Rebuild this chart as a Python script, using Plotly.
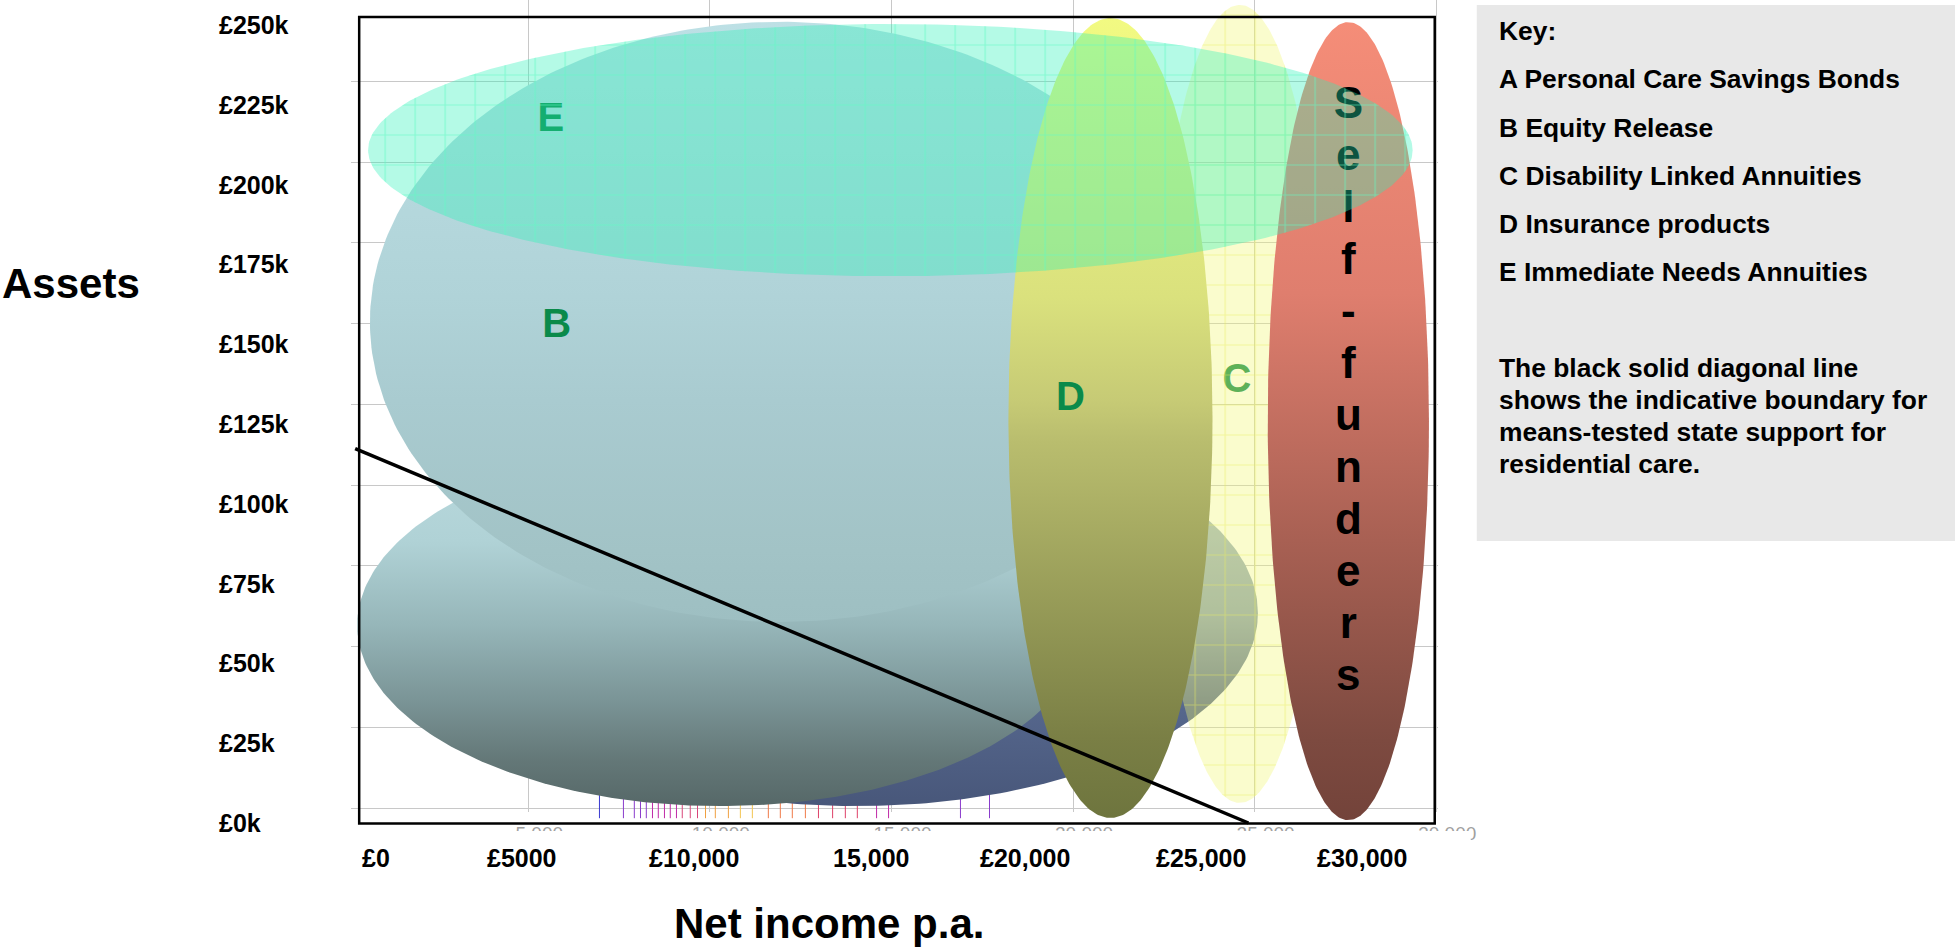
import numpy as np
import plotly.graph_objects as go

W, H = 1955, 947          # reference page geometry used for positioning
PAGE_W = 1995             # rendered figure width
FONT = "Liberation Sans, Arial, Helvetica, sans-serif"
NARROW = "Liberation Sans Narrow, Arial Narrow, Liberation Sans, sans-serif"

# ---------------- values ----------------
# asset axis (in £k) and income axis labels
asset_ticks = [0, 25, 50, 75, 100, 125, 150, 175, 200, 225, 250]
asset_tick_text = ["£0k", "£25k", "£50k", "£75k", "£100k", "£125k",
                   "£150k", "£175k", "£200k", "£225k", "£250k"]
income_tick_text = ["£0", "£5000", "£10,000", "15,000", "£20,000", "£25,000", "£30,000"]
grid_income_ticks = [5000, 10000, 15000, 20000, 25000, 30000]

# product regions drawn as ellipses: centre and half-extent (income in £, assets in £k)
region_names = ["A lower band", "A", "B", "C", "D", "Self-funders", "E"]
region_income = [14040, 10290, 11940, 24590, 21030, 27580, 14970]
region_assets = [65.8, 62.0, 157.0, 131.3, 126.9, 125.9, 210.8]
region_half_income = [11050, 10000, 11300, 2340, 2810, 2220, 14380]
region_half_assets = [60.5, 56.7, 94.0, 125.0, 125.3, 125.0, 39.5]

# region letters
label_letters = ["E", "B", "D", "C"]
label_income = [5620, 5780, 19930, 24510]
label_assets = [219.9, 155.4, 132.5, 138.2]

# means-tested state support boundary
boundary_income = [234, 24830]
boundary_assets = [117.3, 0.0]

# contour traces of the underlying income/assets surface (income in £)
contour_income = [6960, 7620, 7920, 8090, 8250, 8420, 8580, 8750, 8910, 9080,
                  9240, 9460, 9660, 9880, 10150, 10510, 10840, 11170, 11610, 11940,
                  12270, 12630, 12990, 13380, 13730, 14060, 14590, 14920, 16900, 17700]
contour_level = [0, 1, 1, 1, 1, 2, 2, 2, 2, 2,
                 3, 3, 3, 4, 4, 4, 5, 5, 6, 6,
                 6, 6, 7, 7, 7, 7, 2, 2, 1, 1]
contour_assets_range = [1.5, 12.0]

key_lines = ["Key:", "A Personal Care Savings Bonds", "B Equity Release",
             "C Disability Linked Annuities", "D Insurance products",
             "E Immediate Needs Annuities"]
note_lines = ["The black solid diagonal line", "shows the indicative boundary for",
              "means-tested state support for", "residential care."]

# ---------------- geometry helpers (pixel layout on a 1955 x 947 page) ----------------
INC_PER_PX = 5000 / 181.5
INC_ORIGIN_PX = 346.5
K_PER_PX = 1 / 3.192
K_ORIGIN_PY = 823.0


def inc_at(px):
    return (px - INC_ORIGIN_PX) * INC_PER_PX


def k_at(py):
    return (K_ORIGIN_PY - py) * K_PER_PX


def fx(px):
    return px / W


def fy(py):
    return 1 - py / H


theta = np.linspace(0, 2 * np.pi, 361)


def ellipse(i):
    return (region_income[i] + region_half_income[i] * np.cos(theta),
            region_assets[i] + region_half_assets[i] * np.sin(theta))


# fill styles for each region
gradient_styles = {
    "A lower band": [[0, "#48577a"], [0.25, "#55668c"], [0.5, "#8da2b4"], [1, "#b8ccd3"]],
    "A": [[0, "#566868"], [0.13, "#647878"], [0.29, "#7a9496"], [0.5, "#96b6b9"],
          [0.73, "#b0d2d6"], [1, "#badade"]],
    "B": [[0, "#9ebfc2"], [0.12, "#a2c3c6"], [0.37, "#a9cbd0"], [0.54, "#b0d3d8"], [1, "#bde0e5"]],
    "D": [[0, "#6e753e"], [0.1, "#7a7f45"], [0.47, "#b9bd6e"], [0.52, "#c6ca75"],
          [0.65, "#dae17d"], [1, "#f2fa82"]],
    "Self-funders": [[0, "#73433a"], [0.1, "#7d4a40"], [0.35, "#a86053"], [0.66, "#df7e6e"],
                     [1, "#f58d78"]],
}
flat_styles = {
    "C": ("rgba(241,247,116,0.36)", "rgb(232,236,95)", 0.45),
    "E": ("rgba(41,241,184,0.35)", "rgb(95,250,195)", 0.55),
}
contour_colors = ["#3a3ad0", "#8a3ccc", "#c02aa8", "#d9457a", "#f0a040", "#f3c450",
                  "#ef7a48", "#de4068"]

fig = go.Figure()

# grid subplot needs a trace to exist
fig.add_trace(go.Scatter(x=[None], y=[None], xaxis="x", yaxis="y",
                         showlegend=False, hoverinfo="skip"))

DATA = dict(xaxis="x2", yaxis="y2", showlegend=False, hoverinfo="skip")

# contour lines, grouped by level colour
for lvl, col in enumerate(contour_colors):
    xs, ys = [], []
    for xv, lv in zip(contour_income, contour_level):
        if lv == lvl:
            xs += [xv, xv, None]
            ys += [contour_assets_range[0], contour_assets_range[1], None]
    if xs:
        fig.add_trace(go.Scatter(x=xs, y=ys, mode="lines",
                                 line=dict(color=col, width=1.0), **DATA))


def add_gradient_region(name):
    i = region_names.index(name)
    ex, ey = ellipse(i)
    fig.add_trace(go.Scatter(x=ex, y=ey, mode="lines", fill="toself",
                             line=dict(width=0, color="rgba(0,0,0,0)"),
                             fillgradient=dict(type="vertical", colorscale=gradient_styles[name]),
                             **DATA))


def add_flat_region(name):
    i = region_names.index(name)
    ex, ey = ellipse(i)
    fill, grid_col, grid_op = flat_styles[name]
    fig.add_trace(go.Scatter(x=ex, y=ey, mode="lines", fill="toself", fillcolor=fill,
                             line=dict(width=0, color="rgba(0,0,0,0)"), **DATA))
    fig.add_trace(go.Scatter(x=ex, y=ey, mode="lines", fill="toself",
                             fillcolor="rgba(0,0,0,0)",
                             fillpattern=dict(shape="+", size=30, solidity=0.08,
                                              fgcolor=grid_col, fgopacity=grid_op,
                                              bgcolor="rgba(0,0,0,0)"),
                             line=dict(width=0, color="rgba(0,0,0,0)"), **DATA))


def add_letter(letter):
    j = label_letters.index(letter)
    fig.add_trace(go.Scatter(x=[label_income[j]], y=[label_assets[j]], mode="text",
                             text=[letter], textposition="middle center",
                             textfont=dict(family=FONT, size=40, color="#0a8a4a",
                                           weight="bold"), **DATA))


add_gradient_region("A lower band")
add_gradient_region("A")
add_gradient_region("B")
add_letter("B")
add_letter("C")
add_flat_region("C")
add_gradient_region("D")
add_letter("D")
add_gradient_region("Self-funders")

# vertical "Self-funders" lettering down the red region
sf = region_names.index("Self-funders")
letters = list("Self-funders")
letter_py = 107 + 52 * np.arange(len(letters))
fig.add_trace(go.Scatter(x=[region_income[sf]] * len(letters), y=k_at(letter_py),
                         mode="text", text=letters, textposition="middle center",
                         textfont=dict(family=NARROW, size=44, color="black", weight="bold"),
                         **DATA))

add_letter("E")
add_flat_region("E")

# means-test boundary
fig.add_trace(go.Scatter(x=boundary_income, y=boundary_assets, mode="lines",
                         line=dict(color="black", width=3.5), **DATA))

# ---------------- annotations ----------------
ann = []
for v, t in zip(asset_ticks, asset_tick_text):
    ann.append(dict(x=fx(217), xref="paper", y=v, yref="y2", text=f"<b>{t}</b>",
                    xanchor="left", yanchor="middle", showarrow=False,
                    font=dict(family=FONT, size=25, color="black")))

income_label_px = [376, 522, 694, 871, 1024, 1200, 1361]
for px, t in zip(income_label_px, income_tick_text):
    ann.append(dict(x=fx(px), xref="paper", y=fy(858), yref="paper", text=f"<b>{t}</b>",
                    xanchor="center", yanchor="middle", showarrow=False,
                    font=dict(family=FONT, size=25, color="black")))

ann.append(dict(x=fx(71), y=fy(284), xref="paper", yref="paper", text="<b>Assets</b>",
                showarrow=False, xanchor="center", yanchor="middle",
                font=dict(family=FONT, size=42, color="black")))
ann.append(dict(x=fx(829), y=fy(923), xref="paper", yref="paper",
                text="<b>Net income p.a.</b>", showarrow=False,
                xanchor="center", yanchor="middle",
                font=dict(family=FONT, size=42, color="black")))

for py, t in zip([31, 79, 128, 176, 224, 272], key_lines):
    ann.append(dict(x=fx(1496), y=fy(py), xref="paper", yref="paper", text=f"<b>{t}</b>",
                    showarrow=False, xanchor="left", yanchor="middle",
                    font=dict(family=FONT, size=26.4, color="black")))
for py, t in zip([368, 400, 432, 464], note_lines):
    ann.append(dict(x=fx(1496), y=fy(py), xref="paper", yref="paper", text=f"<b>{t}</b>",
                    showarrow=False, xanchor="left", yanchor="middle",
                    font=dict(family=FONT, size=26.4, color="black")))

shapes = [
    # key panel
    dict(type="rect", xref="paper", yref="paper", x0=fx(1476), x1=1.0,
         y0=fy(541), y1=fy(5), fillcolor="#e8e8e8", line=dict(width=0), layer="below"),
    # hides the lower part of the background tick labels
    dict(type="rect", xref="paper", yref="paper", x0=fx(335), x1=fx(1470),
         y0=fy(850), y1=fy(831), fillcolor="white", line=dict(width=0), layer="above"),
    # chart frame
    dict(type="rect", xref="paper", yref="paper", x0=fx(359), x1=fx(1434),
         y0=fy(823.5), y1=fy(17), fillcolor="rgba(0,0,0,0)",
         line=dict(color="black", width=2.5), layer="above"),
]

GRID = "#c8c8c8"
fig.update_layout(
    width=PAGE_W, height=H, autosize=False,
    margin=dict(l=0, r=0, t=0, b=0, pad=0),
    paper_bgcolor="white", plot_bgcolor="rgba(0,0,0,0)",
    showlegend=False,
    xaxis=dict(domain=[fx(351), fx(1437)], range=[inc_at(351), inc_at(1437)],
               tickmode="array", tickvals=grid_income_ticks,
               ticktext=[f"{v:,}" for v in grid_income_ticks],
               showgrid=True, gridcolor=GRID, gridwidth=1.2, zeroline=False,
               showline=False, ticks="", ticklabelshift=11, ticklabelstandoff=8,
               tickfont=dict(family=FONT, size=19, color="#a0a0a0"),
               anchor="y", fixedrange=True),
    yaxis=dict(domain=[fy(812), 1], range=[k_at(812), k_at(0)],
               tickmode="linear", tick0=k_at(808), dtick=80.73 * K_PER_PX,
               showgrid=True, gridcolor=GRID, gridwidth=1.2, zeroline=False,
               showline=False, ticks="", showticklabels=False,
               anchor="x", fixedrange=True),
    xaxis2=dict(domain=[fx(340), fx(1450)], range=[inc_at(340), inc_at(1450)],
                visible=False, anchor="y2", fixedrange=True),
    yaxis2=dict(domain=[fy(830), 1], range=[k_at(830), k_at(0)],
                visible=False, anchor="x2", fixedrange=True),
    annotations=ann,
    shapes=shapes,
)

page_script = (
    "document.documentElement.style.margin='0';"
    "document.documentElement.style.overflow='hidden';"
    "document.body.style.margin='0';"
    "document.body.style.overflow='hidden';"
)

fig.write_html("out.html", config={"responsive": False}, post_script=page_script)
